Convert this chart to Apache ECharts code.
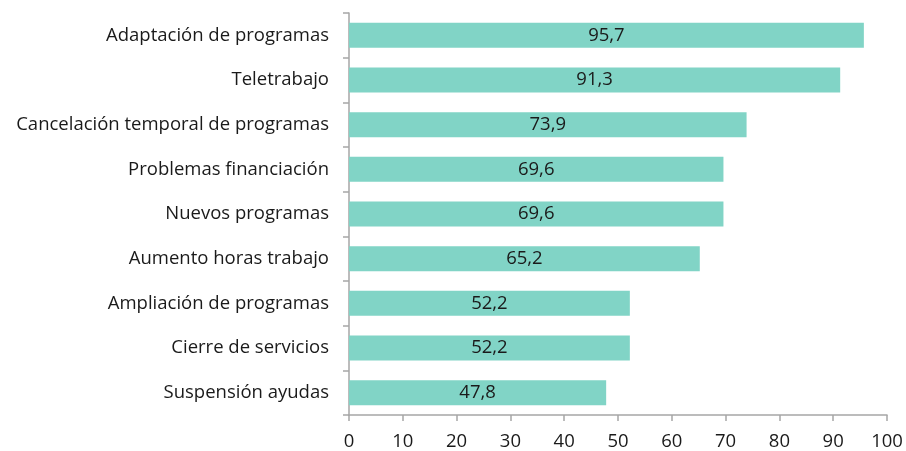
<!DOCTYPE html>
<html>
<head>
<meta charset="utf-8">
<script src="https://cdn.jsdelivr.net/npm/echarts@6/dist/echarts.min.js"></script>
<style>
  html, body { margin: 0; padding: 0; background: #fff; }
  #chart { width: 906px; height: 451px; }
</style>
</head>
<body>
<div id="chart"></div>
<script>
// categories listed bottom to top (category axis starts at the bottom)
var categories = [
  'Suspensión ayudas',
  'Cierre de servicios',
  'Ampliación de programas',
  'Aumento horas trabajo',
  'Nuevos programas',
  'Problemas financiación',
  'Cancelación temporal de programas',
  'Teletrabajo',
  'Adaptación de programas'
];
var values = [47.8, 52.2, 52.2, 65.2, 69.6, 69.6, 73.9, 91.3, 95.7];

var font = '"Open Sans", sans-serif';
var chart = echarts.init(document.getElementById('chart'));
chart.setOption({
  animation: false,
  grid: { left: 349, right: 19, top: 13, bottom: 35 },
  xAxis: {
    type: 'value',
    min: 0, max: 100, interval: 10,
    axisLine: { show: true, lineStyle: { color: '#a6a6a6', width: 1.5 } },
    axisTick: { show: true, length: 6, lineStyle: { color: '#a6a6a6', width: 1.5 } },
    splitLine: { show: false },
    axisLabel: { color: '#1a1a1a', fontSize: 18.5, fontFamily: font, margin: 17 }
  },
  yAxis: {
    type: 'category',
    data: categories,
    axisLine: { lineStyle: { color: '#a6a6a6', width: 1.5 } },
    axisTick: { show: true, length: 6, lineStyle: { color: '#a6a6a6', width: 1.5 } },
    axisLabel: { color: '#1a1a1a', fontSize: 18.5, fontFamily: font, margin: 20 }
  },
  series: [{
    type: 'bar',
    data: values,
    barCategoryGap: '44%',
    itemStyle: { color: '#81d4c6' },
    label: {
      show: true,
      position: 'inside',
      color: '#1a1a1a',
      fontSize: 18.5,
      fontFamily: font,
      formatter: function (p) { return p.value.toFixed(1).replace('.', ','); }
    }
  }]
});
</script>
</body>
</html>
